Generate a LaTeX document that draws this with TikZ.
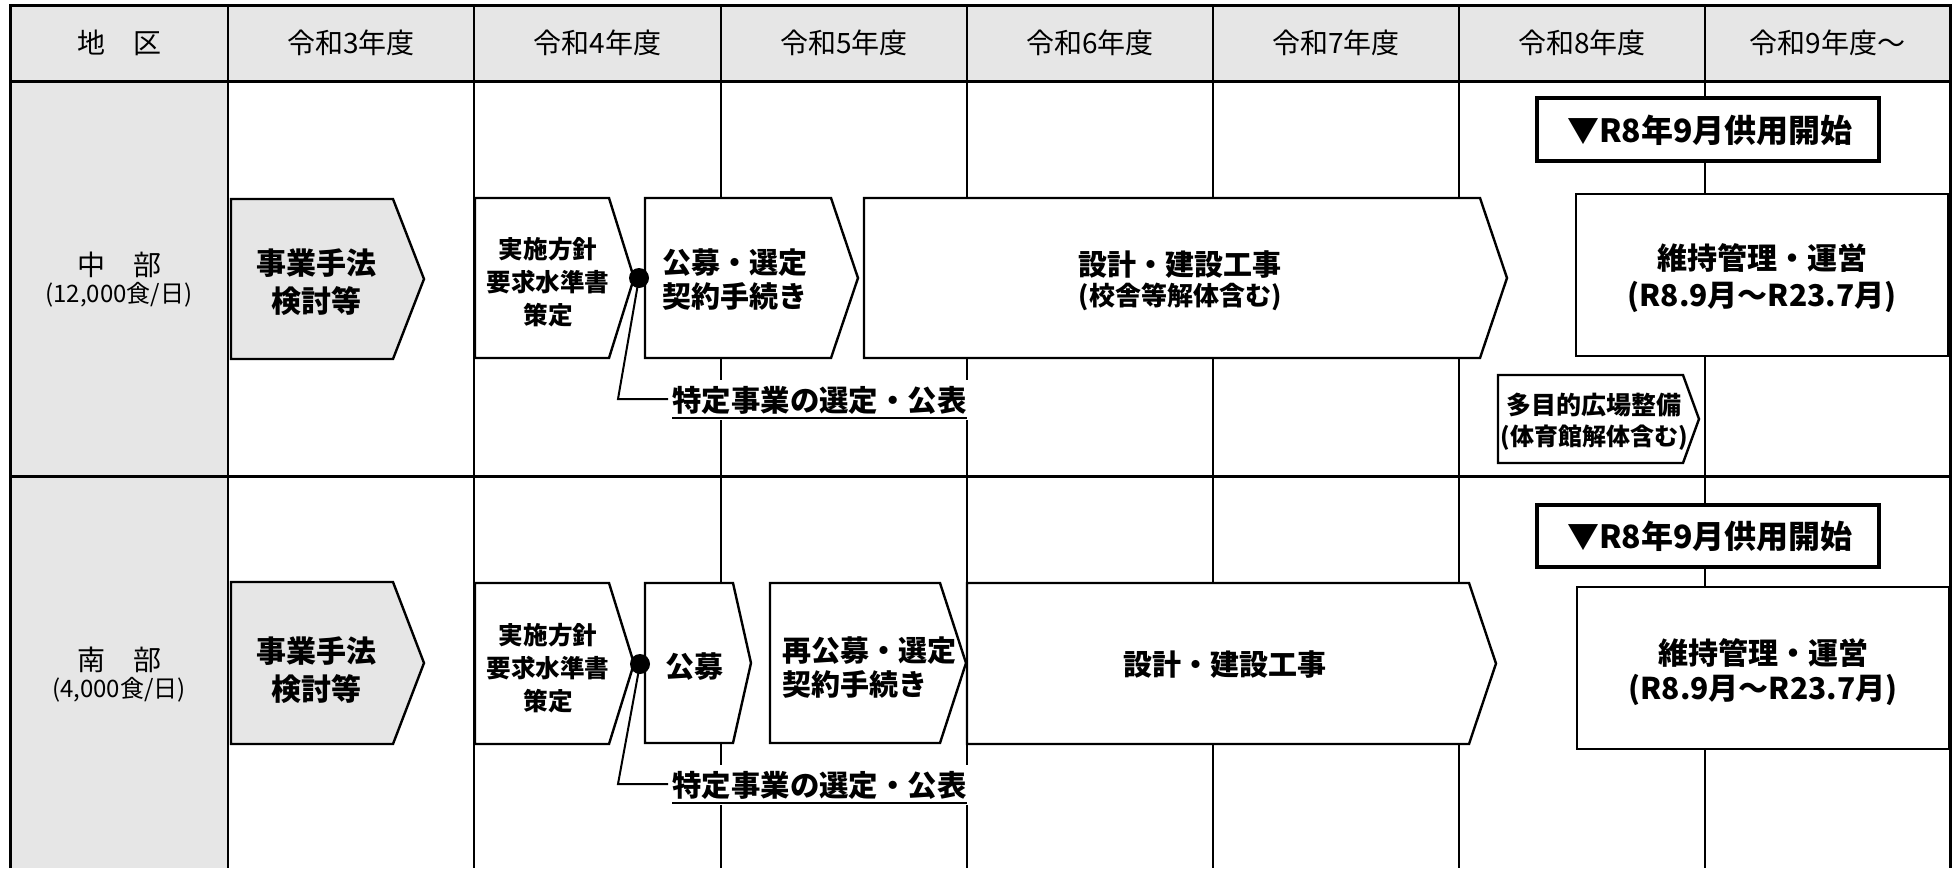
\documentclass[tikz,border=0pt]{standalone}
\usepackage{fontspec}
\setmainfont{Noto Sans CJK JP}
\usetikzlibrary{calc}
\definecolor{hdr}{RGB}{230,230,230}
\newcommand{\chevbox}[6]{%
  \draw[#1] (#2,#5) -- (#3,#5) -- (#4,{(#5+#6)/2}) -- (#3,#6) -- (#2,#6) -- cycle;}
\newcommand{\fs}[2]{\fontsize{#1}{#2}\selectfont}
\begin{document}
\begin{tikzpicture}[x=0.5pt,y=-0.5pt,
  gridline/.style={line width=1pt},
  frame/.style={line width=1.5pt},
  box/.style={draw,line width=1.2pt,fill=white,line join=miter},
  boxg/.style={box,fill=hdr},
  startbox/.style={draw,line width=2pt,fill=white},
  hd/.style={font=\fs{14}{17},inner sep=0pt},
  rl/.style={font=\fs{14}{17},inner sep=0pt},
  rs/.style={font=\fs{12}{15},inner sep=0pt},
  lb/.style={font=\bfseries\fs{14.5}{17},inner sep=0pt,align=center},
  big/.style={font=\bfseries\fs{15}{19},inner sep=0pt,align=center},
  sm/.style={font=\bfseries\fs{12.3}{16.5},inner sep=0pt,align=center},
  ul/.style={font=\bfseries\fs{14.7}{17},fill=white,inner xsep=2pt,inner ysep=3pt,anchor=base west},
  dotn/.style={circle,fill=black,inner sep=0pt,minimum size=10pt},
  lead/.style={line width=1pt}]
\useasboundingbox (0,0) rectangle (1955,868);
\clip (0,0) rectangle (1955,868);
% background
\fill[white] (0,0) rectangle (1955,868);
\fill[hdr] (10,5) rectangle (1950,81);
\fill[hdr] (10,81) rectangle (228,868);
\foreach \x in {228,474,721,967,1213,1459,1705}
  \draw[gridline] (\x,5) -- (\x,868);
\draw[frame] (10,868) -- (10,5) -- (1950,5) -- (1950,868);
\draw[frame] (10,81) -- (1950,81);
\draw[frame] (10,476) -- (1950,476);
% header
\node[hd] (h0) at (119,43) {地　区};
\node[hd] (h1) at (351,43) {令和3年度};
\node[hd] (h2) at (597.5,43) {令和4年度};
\node[hd] (h3) at (844,43) {令和5年度};
\node[hd] (h4) at (1090,43) {令和6年度};
\node[hd] (h5) at (1336,43) {令和7年度};
\node[hd] (h6) at (1582,43) {令和8年度};
\node[hd] (h7) at (1827.5,43) {令和9年度～};
% row labels
\node[rl] (r1a) at (119,265) {中　部};
\node[rs] (r1b) at (119,295) {(12,000食/日)};
\node[rl] (r2a) at (119,660) {南　部};
\node[rs] (r2b) at (119,690) {(4,000食/日)};
% ---------- row 1 ----------
\chevbox{boxg}{231}{393}{424}{199}{359}
\chevbox{box}{475}{609}{634}{198}{358}
\chevbox{box}{645}{831}{858}{198}{358}
\chevbox{box}{864}{1480}{1507}{198}{358}
\draw[box] (1576,194) rectangle (1948,356);
\draw[startbox] (1537,98) rectangle (1879,161);
\chevbox{box}{1498}{1683}{1699}{375}{463}
\node[big] (a1) at (316,282) {事業手法\\検討等};
\node[sm] (b1) at (548,282) {実施方針\\要求水準書\\策定};
\node[lb,align=left,anchor=west] (c1) at (662,280) {公募・選定\\契約手続き};
\node[lb] (d1) at (1180,265) {設計・建設工事};
\node[font=\bfseries\fs{13}{15},inner sep=0pt] (d1b) at (1180,297) {(校舎等解体含む)};
\node[lb,font=\bfseries\fs{15}{17}] (e1) at (1762,258) {維持管理・運営};
\node[lb,font=\bfseries\fs{15}{17}] (e1b) at (1762,297) {(R8.9月～R23.7月)};
\node[font=\bfseries\fs{16}{18},inner sep=0pt] (v1) at (1710,130) {▼R8年9月供用開始};
\node[font=\bfseries\fs{12.5}{15},inner sep=0pt] (m1) at (1594,405) {多目的広場整備};
\node[font=\bfseries\fs{12}{15},inner sep=0pt] (m1b) at (1594,438) {(体育館解体含む)};
\node[dotn] (dt1) at (639,278) {};
\node[ul] (t1) at (668,411) {特定事業の選定・公表};
\coordinate (k1) at (618,399);
\draw[lead] (dt1.center) -- (k1) -- (k1 -| t1.west);
\draw[line width=1pt] ($(t1.base west)+(4,7)$) -- ($(t1.base east)+(-4,7)$);
% ---------- row 2 ----------
\chevbox{boxg}{231}{393}{424}{582}{744}
\chevbox{box}{475}{609}{634}{583}{744}
\chevbox{box}{645}{733}{751}{583}{743}
\chevbox{box}{770}{940}{966}{583}{743}
\chevbox{box}{967}{1469}{1496}{583}{744}
\draw[box] (1577,587) rectangle (1949,749);
\draw[startbox] (1537,505) rectangle (1879,567);
\node[big] (a2) at (316,670) {事業手法\\検討等};
\node[sm] (b2) at (548,668) {実施方針\\要求水準書\\策定};
\node[lb] (c2) at (694,667) {公募};
\node[lb,align=left,anchor=west] (c2b) at (782,668) {再公募・選定\\契約手続き};
\node[lb] (d2) at (1225,665) {設計・建設工事};
\node[lb,font=\bfseries\fs{15}{17}] (e2) at (1763,653) {維持管理・運営};
\node[lb,font=\bfseries\fs{15}{17}] (e2b) at (1763,690) {(R8.9月～R23.7月)};
\node[font=\bfseries\fs{16}{18},inner sep=0pt] (v2) at (1710,536) {▼R8年9月供用開始};
\node[dotn] (dt2) at (640,664) {};
\node[ul] (t2) at (668,796) {特定事業の選定・公表};
\coordinate (k2) at (618,784);
\draw[lead] (dt2.center) -- (k2) -- (k2 -| t2.west);
\draw[line width=1pt] ($(t2.base west)+(4,7)$) -- ($(t2.base east)+(-4,7)$);
\end{tikzpicture}
\end{document}
